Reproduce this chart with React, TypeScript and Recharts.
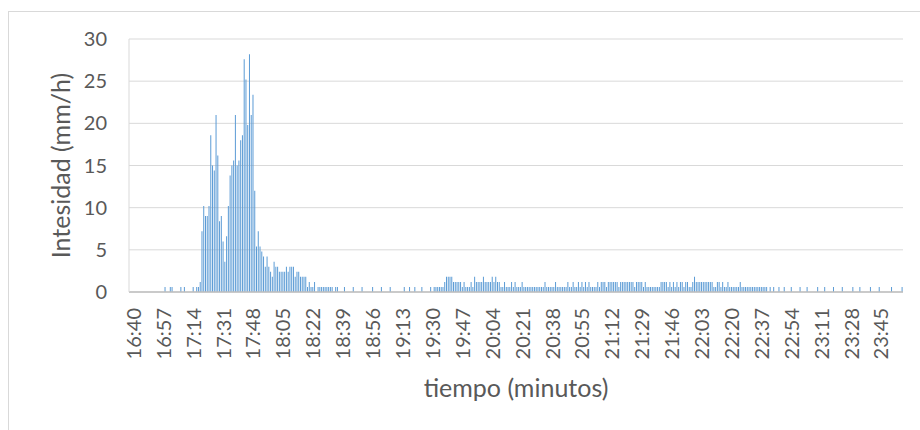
import React from 'react';
import { BarChart, Bar, XAxis, YAxis, CartesianGrid } from 'recharts';

// Intensidad (mm/h) por minuto, desde 16:40 hasta 23:59
const intensity1640to1739 = [
  0, 0, 0, 0, 0, 0, 0, 0, 0, 0, 0, 0, 0, 0, 0, 0, 0, 0, 0, 0,
  0.6, 0, 0, 0.6, 0.6, 0, 0, 0, 0, 0.6, 0, 0.6, 0, 0, 0, 0, 0.6, 0, 0.6, 0.6,
  1.2, 7.2, 10.2, 9.0, 9.0, 10.2, 18.6, 15.0, 14.4, 21.0, 16.2, 8.4, 9.0, 6.0, 3.6, 6.6, 10.2, 13.8, 15.0, 15.6,
];
const intensity1740to1839 = [
  21.0, 15.0, 15.6, 18.0, 18.6, 27.6, 25.2, 19.8, 28.2, 21.0, 23.4, 12.0, 5.4, 7.2, 5.4, 4.8, 4.2, 3.0, 4.2, 3.0,
  2.4, 1.8, 3.6, 3.0, 3.0, 2.4, 2.4, 2.4, 2.4, 3.0, 2.4, 3.0, 3.0, 3.0, 1.8, 2.4, 2.4, 1.8, 1.8, 1.8,
  1.8, 0.6, 1.2, 0.6, 0.6, 1.2, 0, 0.6, 0.6, 0.6, 0.6, 0.6, 0.6, 0.6, 0.6, 0.6, 0, 0.6, 0.6, 0,
];
const intensity1840to1939 = [
  0, 0, 0.6, 0, 0, 0, 0, 0.6, 0, 0, 0, 0, 0.6, 0, 0, 0, 0, 0, 0.6, 0,
  0, 0, 0, 0.6, 0, 0, 0, 0, 0.6, 0, 0, 0, 0, 0, 0, 0, 0.6, 0, 0, 0.6,
  0, 0, 0.6, 0, 0, 0, 0.6, 0, 0, 0, 0, 0.6, 0, 0.6, 0.6, 0.6, 0.6, 0.6, 0.6, 1.2,
];
const intensity1940to2039 = [
  1.8, 1.8, 1.8, 1.8, 1.2, 1.2, 1.2, 1.2, 1.2, 0.6, 1.2, 0.6, 0.6, 0.6, 1.2, 0.6, 1.8, 1.2, 1.2, 1.2,
  1.2, 1.8, 1.2, 1.2, 1.2, 1.2, 1.8, 1.2, 1.8, 1.2, 1.2, 0.6, 0.6, 1.2, 0.6, 0.6, 0.6, 1.2, 0.6, 1.2,
  0.6, 0.6, 0.6, 1.2, 0.6, 0.6, 0.6, 0.6, 0.6, 0.6, 0.6, 0.6, 0.6, 0.6, 0.6, 0.6, 1.2, 0.6, 0.6, 0.6,
];
const intensity2040to2139 = [
  0.6, 0.6, 1.2, 0.6, 0.6, 0.6, 0.6, 0.6, 0.6, 1.2, 0.6, 0.6, 1.2, 0.6, 0.6, 1.2, 0.6, 1.2, 0.6, 1.2,
  0.6, 1.2, 0.6, 0.6, 0.6, 0.6, 1.2, 0.6, 1.2, 1.2, 1.2, 0.6, 1.2, 1.2, 1.2, 1.2, 1.2, 1.2, 0.6, 1.2,
  1.2, 1.2, 1.2, 1.2, 1.2, 1.2, 1.2, 0.6, 1.2, 1.2, 1.2, 1.2, 0.6, 1.2, 0.6, 0.6, 0.6, 0.6, 0.6, 0.6,
];
const intensity2140to2239 = [
  0.6, 0.6, 1.2, 1.2, 1.2, 1.2, 0.6, 1.2, 0.6, 1.2, 0.6, 1.2, 0.6, 1.2, 1.2, 0.6, 1.2, 1.2, 0.6, 0.6,
  1.2, 1.8, 1.2, 1.2, 1.2, 1.2, 1.2, 1.2, 1.2, 1.2, 1.2, 1.2, 0.6, 0.6, 1.2, 1.2, 0.6, 1.2, 0.6, 0.6,
  1.2, 0.6, 0.6, 0.6, 0.6, 0.6, 0.6, 1.2, 0.6, 0.6, 0.6, 0.6, 0.6, 0.6, 0.6, 0.6, 0.6, 0.6, 0.6, 0.6,
];
const intensity2240to2339 = [
  0.6, 0.6, 0.6, 0, 0.6, 0, 0.6, 0, 0, 0.6, 0, 0, 0.6, 0, 0, 0, 0.6, 0, 0, 0,
  0, 0.6, 0, 0, 0, 0.6, 0, 0, 0, 0, 0, 0.6, 0, 0, 0, 0.6, 0, 0, 0, 0,
  0.6, 0, 0, 0, 0, 0.6, 0, 0, 0, 0, 0, 0.6, 0, 0, 0, 0.6, 0, 0, 0, 0,
];
const intensity2340to2359 = [
  0, 0.6, 0, 0, 0, 0, 0.6, 0, 0, 0, 0, 0, 0, 0.6, 0, 0, 0, 0, 0, 0.6,
];

const intensity = [
  ...intensity1640to1739,
  ...intensity1740to1839,
  ...intensity1840to1939,
  ...intensity1940to2039,
  ...intensity2040to2139,
  ...intensity2140to2239,
  ...intensity2240to2339,
  ...intensity2340to2359,
];

const startHour = 16;
const startMin = 40;
const minuteLabels = intensity.map((_, i) => {
  const total = startHour * 60 + startMin + i;
  const h = Math.floor(total / 60);
  const m = total % 60;
  return `${h}:${m < 10 ? '0' : ''}${m}`;
});

const xTickLabels = [
  '16:40', '16:57', '17:14', '17:31', '17:48', '18:05', '18:22', '18:39', '18:56',
  '19:13', '19:30', '19:47', '20:04', '20:21', '20:38', '20:55', '21:12', '21:29',
  '21:46', '22:03', '22:20', '22:37', '22:54', '23:11', '23:28', '23:45',
];
const yTicks = [0, 5, 10, 15, 20, 25, 30];

const data = minuteLabels.map((t, i) => ({ t, v: intensity[i] }));

const FONT = 'Lato, "Open Sans", sans-serif';
const TEXT = '#595959';

const XTick = (props: any) => {
  const { x, y, payload } = props;
  return (
    <text
      x={0}
      y={0}
      transform={`translate(${x + 3},${y}) rotate(-90)`}
      textAnchor="end"
      dominantBaseline="central"
      fill={TEXT}
      fontSize={20}
      fontFamily={FONT}
    >
      {payload.value}
    </text>
  );
};

export default function App() {
  return (
    <div
      style={{
        position: 'absolute',
        left: 8,
        top: 11,
        width: 911,
        height: 418,
        borderLeft: '1px solid #D9D9D9',
        borderTop: '1px solid #D9D9D9',
        background: '#fff',
      }}
    >
      <BarChart
        width={911}
        height={418}
        data={data}
        margin={{ top: 27, right: 17, left: 0, bottom: 58 }}
        barCategoryGap="20%"
      >
        <CartesianGrid vertical={false} stroke="#D9D9D9" />
        <XAxis
          dataKey="t"
          ticks={xTickLabels}
          interval={0}
          tick={<XTick />}
          tickLine={false}
          tickSize={0}
          tickMargin={16}
          axisLine={{ stroke: '#BFBFBF', strokeWidth: 1.5 }}
          height={80}
          label={{
            value: 'tiempo (minutos)',
            position: 'bottom',
            offset: 7,
            fill: TEXT,
            fontSize: 25,
            fontFamily: FONT,
          }}
        />
        <YAxis
          width={120}
          domain={[0, 30]}
          ticks={yTicks}
          interval={0}
          tickLine={false}
          tickSize={0}
          tickMargin={22}
          axisLine={{ stroke: '#D9D9D9' }}
          tick={{ fill: TEXT, fontSize: 20, fontFamily: FONT }}
          label={{
            value: 'Intesidad (mm/h)',
            angle: -90,
            position: 'center',
            dx: -8,
            fill: TEXT,
            fontSize: 25,
            fontFamily: FONT,
          }}
        />
        <Bar dataKey="v" fill="#5B9BD5" isAnimationActive={false} />
      </BarChart>
    </div>
  );
}
